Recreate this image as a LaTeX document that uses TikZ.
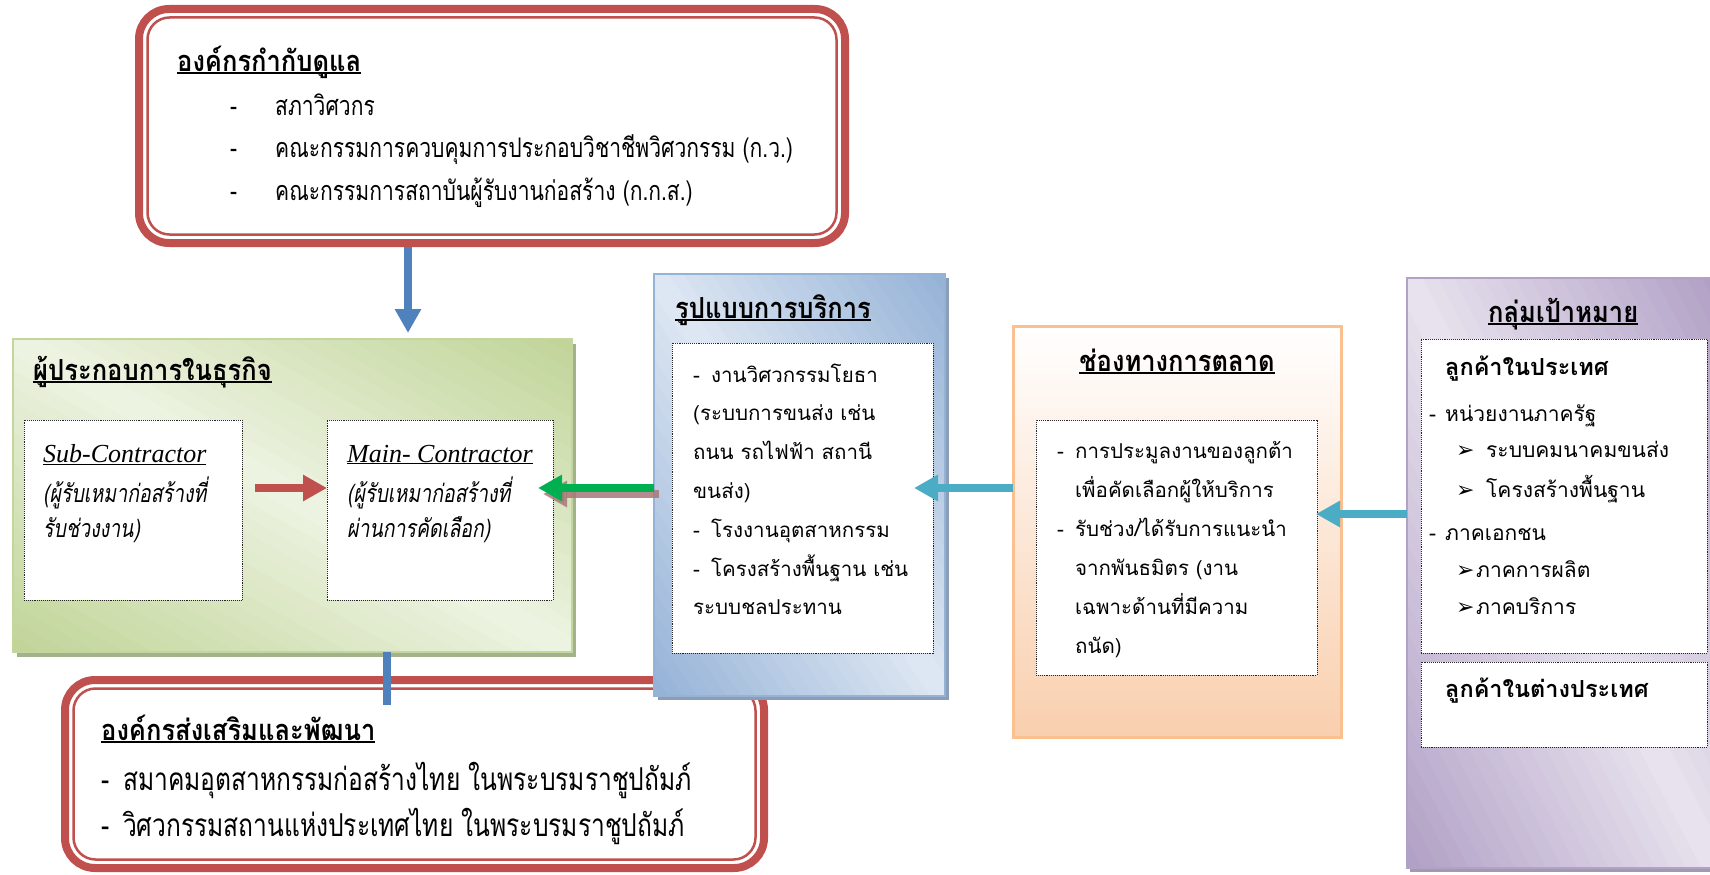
\documentclass[tikz,border=0pt]{standalone}
\usepackage{fontspec}
\usetikzlibrary{arrows.meta,shadows,calc}
\newfontfamily\thai[Script=Thai]{Loma}
\newfontfamily\thaic[Script=Thai,FakeStretch=0.78]{Loma}
\newfontfamily\thaib[Script=Thai,FakeStretch=0.88]{Loma}
\newfontfamily\symb{DejaVu Sans}
\newfontfamily\lserif{Liberation Serif}
\definecolor{redline}{HTML}{C0504D}
\definecolor{bluearr}{HTML}{4F81BD}
\definecolor{cyanarr}{HTML}{4BACC6}
\definecolor{greenarr}{HTML}{00B050}
\definecolor{arrshade}{HTML}{A8787A}
\definecolor{grnD}{HTML}{C0D497}
\definecolor{grnL}{HTML}{EDF3E1}
\definecolor{grnE}{HTML}{C3D69B}
\definecolor{grnS}{HTML}{A3B18C}
\definecolor{bluD}{HTML}{93B1D6}
\definecolor{bluL}{HTML}{DEE7F3}
\definecolor{bluE}{HTML}{95B3D7}
\definecolor{bluS}{HTML}{8C9DB8}
\definecolor{orgD}{HTML}{F9CFAE}
\definecolor{orgE}{HTML}{FAC090}
\definecolor{purD}{HTML}{B09FC5}
\definecolor{purL}{HTML}{E8E3EE}
\definecolor{purE}{HTML}{B3A2C7}
\definecolor{purS}{HTML}{A39AB0}
\newcommand\thaiul[1]{\setbox0\hbox{#1}\rlap{\rule[-0.12em]{\wd0}{0.07em}}\box0}
\newcommand\dsh[1]{\makebox[#1][l]{-}}
\newcommand\arw[1]{\makebox[#1][l]{{\symb\fontsize{22}{22}\selectfont ➢}}}

\begin{document}
\begin{tikzpicture}[x=1pt, y=1pt,
  redbox/.style={draw=redline, line width=8pt, fill=white, rounded corners=30pt,
    inner sep=0pt, outer sep=0pt, anchor=north west},
  redin/.style={draw=redline, line width=2.5pt, rounded corners=22pt},
  inbox/.style={draw=black!85, densely dotted, line width=0.9pt, fill=white,
    inner sep=0pt, outer sep=0pt, anchor=north west},
  panel/.style={line width=2pt, fill=white, inner sep=0pt, outer sep=0pt, anchor=north west},
  diag/.style n args={4}{path picture={
    \begin{scope}[x={(#3,0)}, y={(0,-#4)}, shift={(path picture bounding box.north west)}]
      \foreach \k in {0,...,39}{
        \pgfmathsetmacro\ta{-1+\k/20}
        \pgfmathsetmacro\tb{\ta+0.06}
        \pgfmathtruncatemacro\dk{100*abs(\ta+0.025)}
        \fill[#1!\dk!#2] (\ta-1,-1) -- (\ta+2,2) -- (\tb+2,2) -- (\tb-1,-1) -- cycle;
      }
    \end{scope}}},
  ttl/.style={anchor=base west, inner sep=0pt, font=\thaib\bfseries\fontsize{29}{29}\selectfont},
  txt/.style={anchor=base west, inner sep=0pt, font=\thai\fontsize{20.5}{20.5}\selectfont},
  ptxt/.style={anchor=base west, inner sep=0pt, font=\thai\fontsize{21}{21}\selectfont},
  pbold/.style={anchor=base west, inner sep=0pt, font=\thai\bfseries\fontsize{23.5}{23.5}\selectfont},
  ctxt/.style={anchor=base west, inner sep=0pt, font=\thaic\fontsize{27}{27}\selectfont},
  itxt/.style={anchor=base west, inner sep=0pt, font=\thaic\itshape\fontsize{25}{25}\selectfont},
  ltxt/.style={anchor=base west, inner sep=0pt, font=\lserif\itshape\fontsize{26}{26}\selectfont},
  fat/.style={-{Triangle[length=24pt,width=25pt]}, line width=8pt},
]
\useasboundingbox (0,0) rectangle (1710,-875);

\node[redbox, minimum width=699, minimum height=188] (prm) at (65,-680) {};
\draw[redin] ([shift={(8.5,8.5)}]prm.south west) rectangle ([shift={(-8.5,-8.5)}]prm.north east);
\node[ttl] (prmT) at (101,-740) {\thaiul{องค์กรส่งเสริมและพัฒนา}};
\foreach \t [count=\i] in {สมาคมอุตสาหกรรมก่อสร้างไทย ในพระบรมราชูปถัมภ์,
    วิศวกรรมสถานแห่งประเทศไทย ในพระบรมราชูปถัมภ์}
  \node[ctxt, font=\thaic\fontsize{31.5}{31.5}\selectfont] (prm-\i) at (101,{-790-46*(\i-1)}) {\dsh{22pt}\t};

\node[redbox, minimum width=706, minimum height=234] (reg) at (139,-9) {};
\draw[redin] ([shift={(8.5,8.5)}]reg.south west) rectangle ([shift={(-8.5,-8.5)}]reg.north east);
\node[ttl] (regT) at (177,-71) {\thaiul{องค์กรกำกับดูแล}};
\foreach \t [count=\i] in {สภาวิศวกร, คณะกรรมการควบคุมการประกอบวิชาชีพวิศวกรรม (ก.ว.),
    คณะกรรมการสถาบันผู้รับงานก่อสร้าง (ก.ก.ส.)}
  \node[ctxt] (reg-\i) at (230,{-115-42.5*(\i-1)}) {\dsh{45pt}\t};

\node[panel, draw=grnE, diag={grnD}{grnL}{559}{313},
  drop shadow={shadow xshift=4pt, shadow yshift=-5pt, fill=grnS, opacity=1},
  minimum width=559, minimum height=313] (biz) at (13,-339) {};
\node[ttl] (bizT) at (33,-380) {\thaiul{ผู้ประกอบการในธุรกิจ}};
\node[inbox, minimum width=218, minimum height=180] (sub) at (24,-420) {};
\node[inbox, minimum width=226, minimum height=180] (main) at (327,-420) {};
\node[ltxt] (subT) at (43,-462) {\underline{Sub-Contractor}};
\node[ltxt] (mainT) at (347,-462) {\underline{Main- Contractor}};
\node[itxt] (sub-1) at (43,-502) {(ผู้รับเหมาก่อสร้างที่};
\node[itxt] (sub-2) at (43,-537) {รับช่วงงาน)};
\node[itxt] (main-1) at (347,-502) {(ผู้รับเหมาก่อสร้างที่};
\node[itxt] (main-2) at (347,-537) {ผ่านการคัดเลือก)};

\node[panel, draw=bluE, diag={bluD}{bluL}{291}{422},
  drop shadow={shadow xshift=4pt, shadow yshift=-4pt, fill=bluS, opacity=1},
  minimum width=291, minimum height=422] (svc) at (654,-274) {};
\node[ttl] (svcT) at (675,-318) {\thaiul{รูปแบบการบริการ}};
\node[inbox, minimum width=261, minimum height=310] (svcIn) at (672,-343) {};
\foreach \t [count=\i] in {\dsh{18pt}งานวิศวกรรมโยธา, {(ระบบการขนส่ง เช่น}, ถนน รถไฟฟ้า สถานี,
    ขนส่ง), \dsh{18pt}โรงงานอุตสาหกรรม, \dsh{18pt}โครงสร้างพื้นฐาน เช่น, ระบบชลประทาน}
  \node[txt] (svc-\i) at (693,{-382-38.8*(\i-1)}) {\t};

\node[panel, line width=3pt, draw=orgE, top color=white, bottom color=orgD,
  minimum width=328, minimum height=411] (mkt) at (1013,-326) {};
\node[ttl, anchor=base] (mktT) at (1177,-371) {\thaiul{ช่องทางการตลาด}};
\node[inbox, minimum width=281, minimum height=255] (mktIn) at (1036,-420) {};
\foreach \t [count=\i] in {\dsh{18pt}การประมูลงานของลูกต้า, \hspace*{18pt}เพื่อคัดเลือกผู้ให้บริการ,
    \dsh{18pt}รับช่วง/ได้รับการแนะนำ, \hspace*{18pt}จากพันธมิตร (งาน,
    \hspace*{18pt}เฉพาะด้านที่มีความ, \hspace*{18pt}ถนัด)}
  \node[txt] (mkt-\i) at (1057,{-458-39*(\i-1)}) {\t};

\node[panel, draw=purE, diag={purD}{purL}{310}{590},
  drop shadow={shadow xshift=3pt, shadow yshift=-4pt, fill=purS, opacity=1},
  minimum width=310, minimum height=590] (tgt) at (1407,-278) {};
\node[ttl] (tgtT) at (1488,-322) {\thaiul{กลุ่มเป้าหมาย}};
\node[inbox, minimum width=286, minimum height=314] (tgtIn) at (1421,-339) {};
\node[inbox, minimum width=286, minimum height=85] (tgtOut) at (1421,-662) {};
\node[pbold] (tgtA) at (1445,-375) {ลูกค้าในประเทศ};
\node[ptxt] (tgt-1) at (1429,-421) {\dsh{16pt}หน่วยงานภาครัฐ};
\node[ptxt] (tgt-2) at (1456,-457) {\arw{30pt}ระบบคมนาคมขนส่ง};
\node[ptxt] (tgt-3) at (1456,-497) {\arw{30pt}โครงสร้างพื้นฐาน};
\node[ptxt] (tgt-4) at (1429,-540) {\dsh{16pt}ภาคเอกชน};
\node[ptxt] (tgt-5) at (1456,-577) {\arw{20pt}ภาคการผลิต};
\node[ptxt] (tgt-6) at (1456,-614) {\arw{20pt}ภาคบริการ};
\node[pbold] (tgtB) at (1445,-697) {ลูกค้าในต่างประเทศ};

\coordinate (dx) at (408,0);
\coordinate (lx) at (387,0);
\coordinate (ay) at (0,-488);
\coordinate (by) at (0,-514);
\draw[fat, bluearr] ($(reg.south -| dx)+(0,-4)$) -- ($(biz.north -| dx)+(0,6)$);
\draw[fat, redline] ($(sub.east |- ay)+(13,0)$) -- (main.west |- ay);
\draw[fat, arrshade, opacity=0.85] ($(svc.west |- ay)+(5,-6)$) -- ($(main.east |- ay)+(-10,-6)$);
\draw[fat, greenarr] (svc.west |- ay) -- ($(main.east |- ay)+(-15,0)$);
\draw[fat, cyanarr] (mkt.west |- ay) -- ($(svc.east |- ay)+(-31,0)$);
\draw[fat, cyanarr] (tgt.west |- by) -- ($(mkt.east |- by)+(-25,0)$);
\draw[bluearr, line width=8pt] (biz.south -| lx) -- ($(prm.north -| lx)+(0,-25)$);
\end{tikzpicture}
\end{document}
